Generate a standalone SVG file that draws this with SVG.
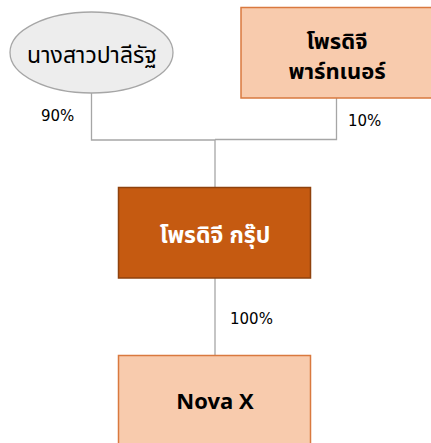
<svg xmlns="http://www.w3.org/2000/svg" width="431" height="443" viewBox="0 0 431 443">
<style>
.conn{fill:none;stroke:#a6a6a6;stroke-width:1.3}
.pct{font-family:Tahoma,"DejaVu Sans","Noto Sans",sans-serif;font-size:15px;fill:#000}
.th{font-family:Tahoma,"Noto Sans Thai","Noto Sans","DejaVu Sans",sans-serif;text-anchor:middle}
.light{fill:#f8cbad;stroke:#d9793f;stroke-width:1.5}
</style>
<rect width="431" height="443" fill="#ffffff"/>
<g id="connectors">
<polyline class="conn" points="91.5,93 91.5,140 215,140"/>
<polyline class="conn" points="336.5,98 336.5,139.5 215,139.5"/>
<line class="conn" x1="215" y1="140" x2="215" y2="187"/>
<line class="conn" x1="215" y1="278" x2="215" y2="356"/>
</g>
<g id="labels">
<text class="pct" x="41" y="121">90%</text>
<text class="pct" x="348" y="126">10%</text>
<text class="pct" x="230" y="324">100%</text>
</g>
<g id="node-palirat">
<ellipse cx="91.5" cy="52.5" rx="81.5" ry="40.5" fill="#ededed" stroke="#a6a6a6" stroke-width="1.3"/>
<text class="th" x="92" y="63" font-size="23" fill="#000">นางสาวปาลีรัฐ</text>
</g>
<g id="node-partner">
<rect class="light" x="241" y="7.5" width="192" height="90.5"/>
<text class="th" x="337" y="49" font-size="22" font-weight="bold" fill="#000">โพรดิจี</text>
<text class="th" x="337" y="79" font-size="22" font-weight="bold" fill="#000">พาร์ทเนอร์</text>
</g>
<g id="node-group">
<rect x="118.5" y="187.5" width="192" height="90.5" fill="#c55a11" stroke="#8f420d" stroke-width="1.5"/>
<text class="th" x="215" y="243" font-size="23" font-weight="bold" fill="#ffffff">โพรดิจี กรุ๊ป</text>
</g>
<g id="node-novax">
<rect class="light" x="118.5" y="355.5" width="192" height="95"/>
<text class="th" x="215" y="409" font-size="22" font-weight="bold" fill="#000">Nova X</text>
</g>
</svg>
